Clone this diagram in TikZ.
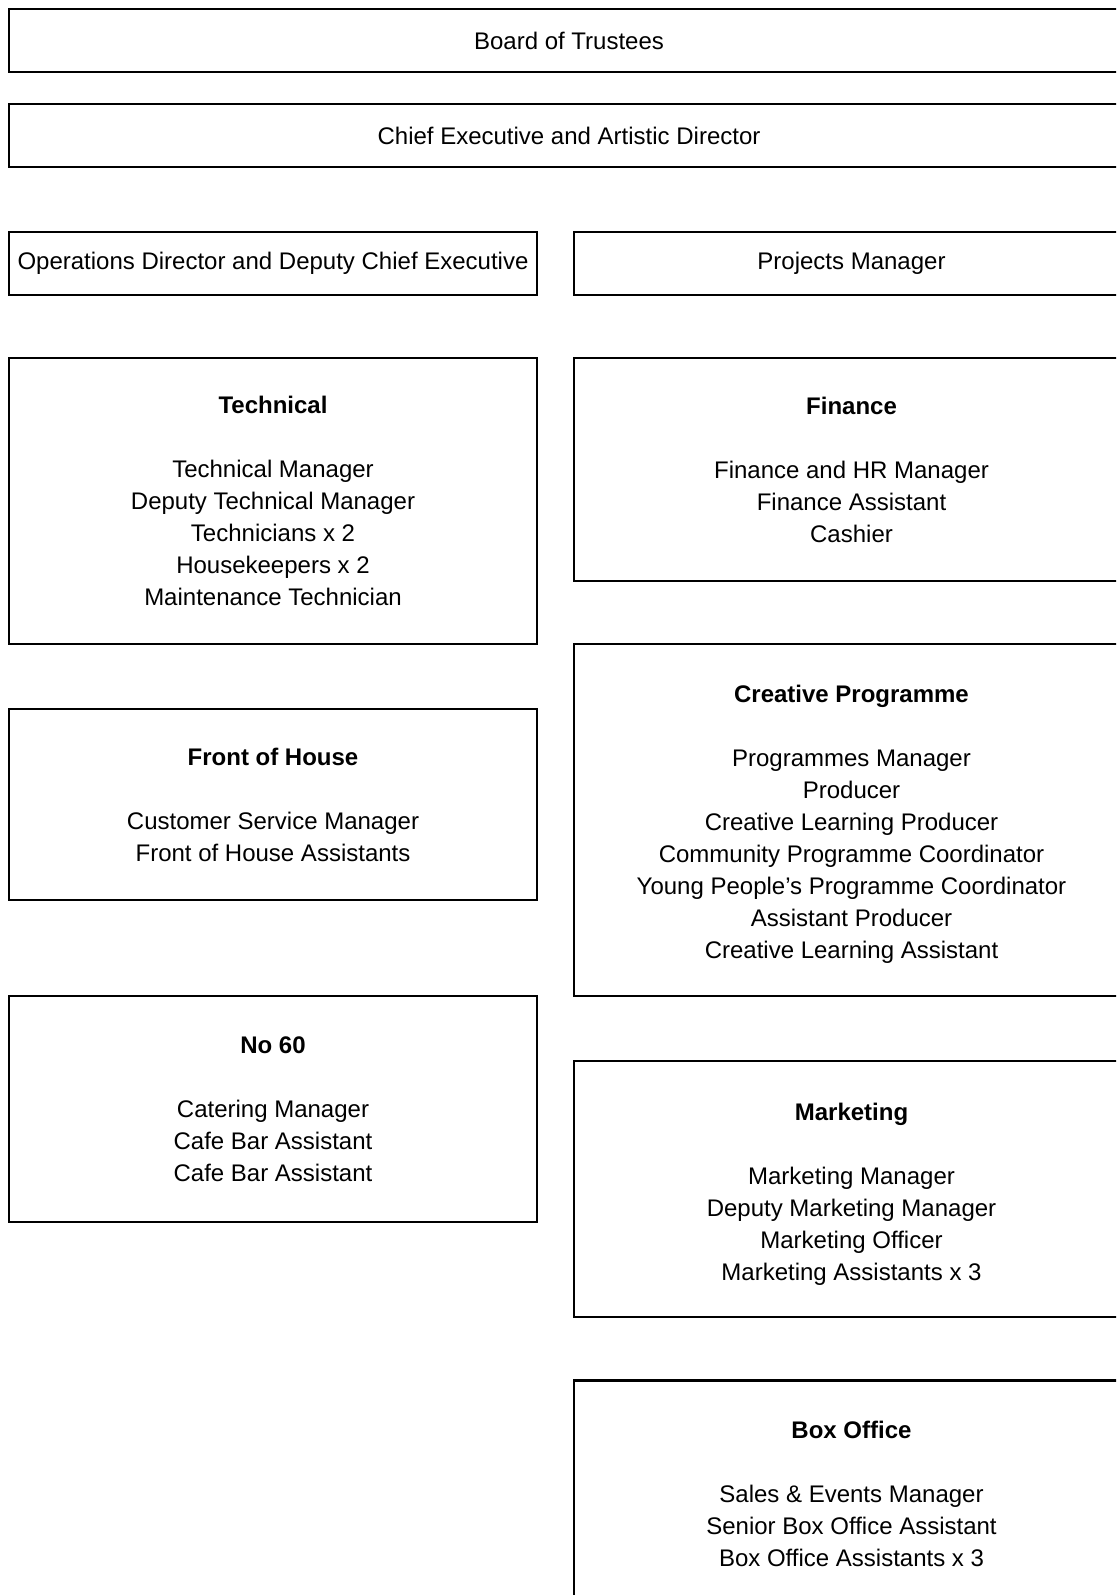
\documentclass[tikz,border=0pt]{standalone}
\usepackage{fontspec}
\setmainfont{Liberation Sans}
\begin{document}
\begin{tikzpicture}[x=0.5pt, y=-0.5pt,
    every node/.style={draw, line width=1.1pt, align=center, inner sep=0pt,
      font=\fontsize{12}{16}\selectfont},
    wide/.style={minimum width=560pt, minimum height=31.5pt},
    left/.style={minimum width=264pt},
    right/.style={minimum width=277.5pt}]
    \useasboundingbox (0,0) rectangle (1116,1595);
    \clip (0,0) rectangle (1116,1595);
    \fill[white] (0,0) rectangle (1116,1595);

    \node[wide] (board) at (569,  40.5) {Board of Trustees};
    \node[wide] (chief) at (569, 135.5) {Chief Executive and Artistic Director};

    \node[left,  minimum height=31.5pt] (ops)      at (273,   263.5) {Operations Director and Deputy Chief Executive};
    \node[right, minimum height=31.5pt] (projects) at (851.5, 263.5) {Projects Manager};

    \node[left, minimum height=143pt] (tech) at (273, 501)
      {\textbf{Technical}\\[16pt] Technical Manager\\ Deputy Technical Manager\\ Technicians x 2\\ Housekeepers x 2\\ Maintenance Technician};
    \node[left, minimum height=95.5pt] (foh) at (273, 804.5)
      {\textbf{Front of House}\\[16pt] Customer Service Manager\\ Front of House Assistants};
    \node[left, minimum height=113pt] (no60) at (273, 1109)
      {\textbf{No 60}\\[16pt] Catering Manager\\ Cafe Bar Assistant\\ Cafe Bar Assistant};

    \node[right, minimum height=111.5pt] (finance) at (851.5, 469.5)
      {\textbf{Finance}\\[16pt] Finance and HR Manager\\ Finance Assistant\\ Cashier};
    \node[right, minimum height=176pt] (creative) at (851.5, 820)
      {\rule{0pt}{13pt}\textbf{Creative Programme}\\[16pt] Programmes Manager\\ Producer\\ Creative Learning Producer\\ Community Programme Coordinator\\ Young People’s Programme Coordinator\\ Assistant Producer\\ Creative Learning Assistant};
    \node[right, minimum height=128pt] (marketing) at (851.5, 1189)
      {\rule{0pt}{14pt}\textbf{Marketing}\\[16pt] Marketing Manager\\ Deputy Marketing Manager\\ Marketing Officer\\ Marketing Assistants x 3};
    \node[right, minimum height=113.5pt] (boxoffice) at (851.5, 1494)
      {\textbf{Box Office}\\[16pt] Sales \& Events Manager\\ Senior Box Office Assistant\\ Box Office Assistants x 3};

\end{tikzpicture}
\end{document}
